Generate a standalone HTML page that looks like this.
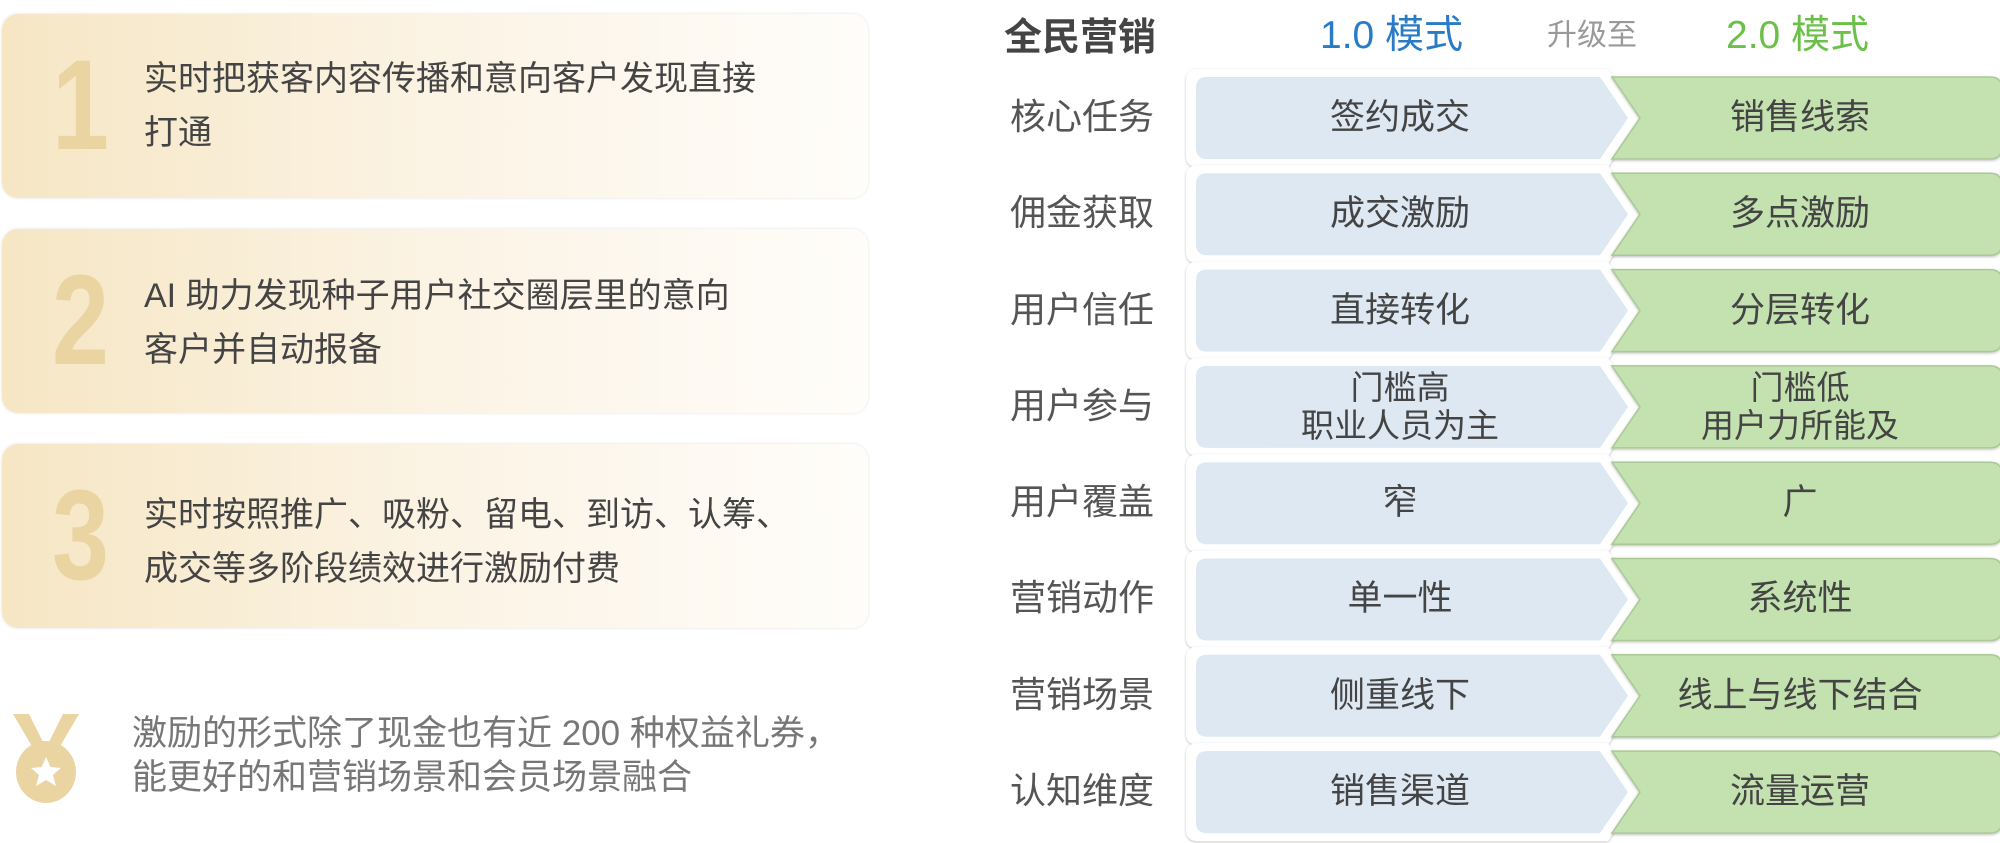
<!DOCTYPE html>
<html><head><meta charset="utf-8"><style>
body{margin:0;width:2000px;height:843px;background:#fff;position:relative;overflow:hidden;font-family:"Liberation Sans","Noto Sans CJK SC",sans-serif}
.card{position:absolute;left:2px;width:866px;height:184px;border-radius:16px;background:linear-gradient(90deg,#f6e6c4 0%,#fbf3e4 50%,#fffdfa 100%);box-shadow:0 0 3px rgba(0,0,0,0.12)}
.num{position:absolute;left:50px;top:28px;font-size:128px;line-height:128px;color:#e9d4a2;font-family:"Liberation Sans Narrow","Liberation Sans",sans-serif;font-weight:bold;transform:scaleX(0.8);transform-origin:left}
.ct{position:absolute;left:142px;font-size:34px;line-height:54px;color:#444;white-space:nowrap}
.t{position:absolute;white-space:nowrap;color:#555}
.lab{position:absolute;left:1010px;font-size:36px;color:#555;line-height:40px;white-space:nowrap}
.c{position:absolute;text-align:center;font-size:35px;color:#444;line-height:40px;white-space:nowrap}
.c2{font-size:33px;line-height:38px}
</style></head><body>
<div class="card" style="top:14px"><div class="num">1</div><div class="ct" style="top:38px">实时把获客内容传播和意向客户发现直接<br>打通</div></div>
<div class="card" style="top:229px"><div class="num">2</div><div class="ct" style="top:40px">AI 助力发现种子用户社交圈层里的意向<br>客户并自动报备</div></div>
<div class="card" style="top:444px"><div class="num">3</div><div class="ct" style="top:44px">实时按照推广、吸粉、留电、到访、认筹、<br>成交等多阶段绩效进行激励付费</div></div>
<svg style="position:absolute;left:11px;top:712px" width="70" height="92" viewBox="0 0 70 92">
<polygon points="2,2 18,2 32,30 22,36" fill="#e9d4a2"/><polygon points="68,2 52,2 38,30 48,36" fill="#e9d4a2"/>
<ellipse cx="35" cy="60" rx="30" ry="31" fill="#e9d4a2"/>
<polygon points="35,45 39.5,55 50,56 42,63 45,74 35,68 25,74 28,63 20,56 30.5,55" fill="#fff"/></svg>
<div class="t" style="left:132px;top:712px;font-size:35px;line-height:44px;color:#777">激励的形式除了现金也有近 200 种权益礼券，<br>能更好的和营销场景和会员场景融合</div>

<div class="t" style="left:1004px;top:6px;font-size:38px;font-weight:bold;color:#444">全民营销</div>
<div class="t" style="left:1320px;top:4px;font-size:39px;color:#2a7bc6">1.0 模式</div>
<div class="t" style="left:1547px;top:10px;font-size:30px;color:#999">升级至</div>
<div class="t" style="left:1726px;top:4px;font-size:39px;color:#6cc04a">2.0 模式</div>

<svg style="position:absolute;left:0;top:0" width="2000" height="843">
<defs><filter id="s" x="-5%" y="-20%" width="110%" height="140%"><feDropShadow dx="0" dy="1" stdDeviation="1.2" flood-color="#000" flood-opacity="0.25"/></filter></defs>
<g id="rows"></g>
</svg>
<script>
var g=document.getElementById('rows'),h='';
for(var i=0;i<8;i++){var t=77+i*96.3,b=t+82,m=t+41;
h+='<path d="M1198,'+(t-8)+' L1608,'+(t-8)+' L1640,'+m+' L1608,'+(b+8)+' L1198,'+(b+8)+' Q1186,'+(b+8)+' 1186,'+(b-4)+' L1186,'+(t+4)+' Q1186,'+(t-8)+' 1198,'+(t-8)+' Z" fill="#fff" filter="url(#s)"/>';
h+='<path d="M1207,'+t+' L1600,'+t+' L1628,'+m+' L1600,'+b+' L1207,'+b+' Q1196,'+b+' 1196,'+(b-11)+' L1196,'+(t+11)+' Q1196,'+t+' 1207,'+t+' Z" fill="#dde8f3"/>';
h+='<path d="M1612,'+t+' L1990,'+t+' Q2002,'+t+' 2002,'+(t+12)+' L2002,'+(b-12)+' Q2002,'+b+' 1990,'+b+' L1612,'+b+' L1640,'+m+' Z" fill="#c4e1b0" stroke="#a9c996" stroke-width="1.5" filter="url(#s)"/>';}
g.innerHTML=h;
</script>
<div class="lab" style="top:97px">核心任务</div>
<div class="lab" style="top:193px">佣金获取</div>
<div class="lab" style="top:290px">用户信任</div>
<div class="lab" style="top:386px">用户参与</div>
<div class="lab" style="top:482px">用户覆盖</div>
<div class="lab" style="top:578px">营销动作</div>
<div class="lab" style="top:675px">营销场景</div>
<div class="lab" style="top:771px">认知维度</div>

<div class="c" style="left:1200px;width:400px;top:98px">签约成交</div>
<div class="c" style="left:1640px;width:320px;top:98px">销售线索</div>
<div class="c" style="left:1200px;width:400px;top:194px">成交激励</div>
<div class="c" style="left:1640px;width:320px;top:194px">多点激励</div>
<div class="c" style="left:1200px;width:400px;top:291px">直接转化</div>
<div class="c" style="left:1640px;width:320px;top:291px">分层转化</div>
<div class="c c2" style="left:1200px;width:400px;top:369px">门槛高<br>职业人员为主</div>
<div class="c c2" style="left:1640px;width:320px;top:369px">门槛低<br>用户力所能及</div>
<div class="c" style="left:1200px;width:400px;top:483px">窄</div>
<div class="c" style="left:1640px;width:320px;top:483px">广</div>
<div class="c" style="left:1200px;width:400px;top:579px">单一性</div>
<div class="c" style="left:1640px;width:320px;top:579px">系统性</div>
<div class="c" style="left:1200px;width:400px;top:676px">侧重线下</div>
<div class="c" style="left:1640px;width:320px;top:676px">线上与线下结合</div>
<div class="c" style="left:1200px;width:400px;top:772px">销售渠道</div>
<div class="c" style="left:1640px;width:320px;top:772px">流量运营</div>
</body></html>
